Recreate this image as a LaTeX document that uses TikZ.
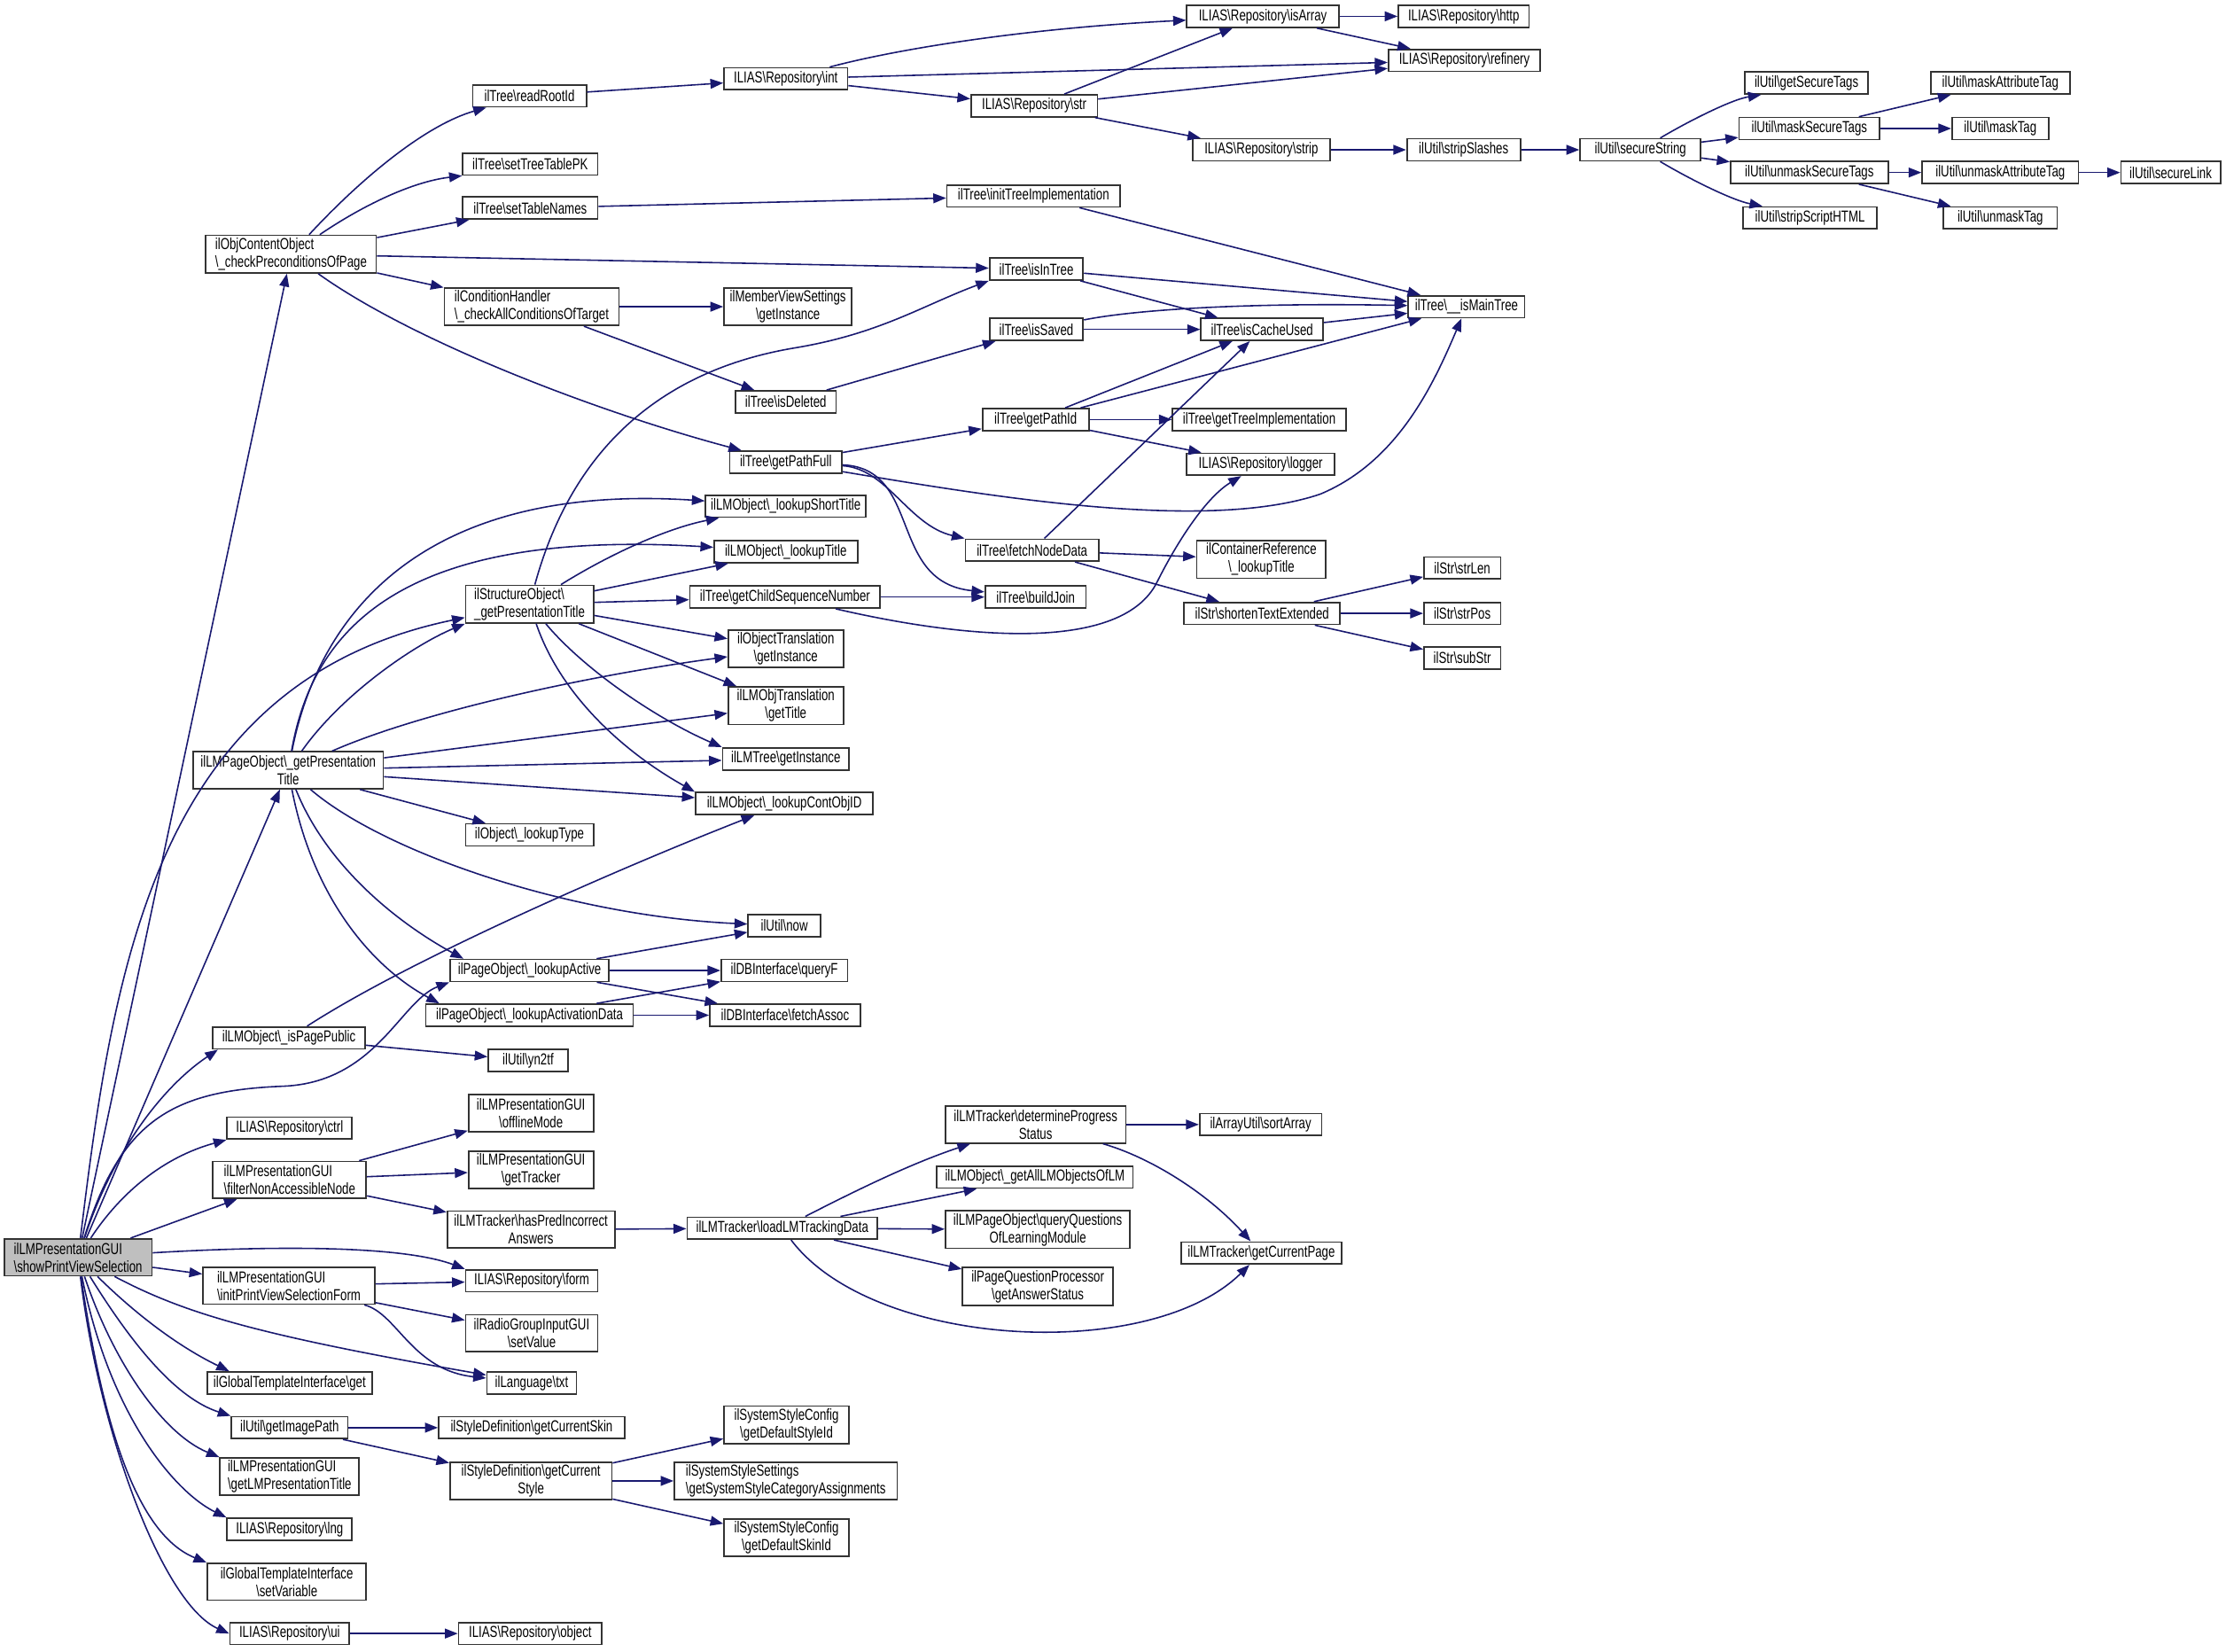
\documentclass[tikz,border=0pt]{standalone}
\usepackage{fontspec}
\newfontfamily\dxfont{Liberation Sans}[FakeStretch=0.74]
\usepackage{tikz}
\usetikzlibrary{arrows.meta,positioning,calc}
\definecolor{dxedge}{HTML}{191970}
\definecolor{dxline}{HTML}{333333}
\definecolor{dxroot}{HTML}{BFBFBF}
\newcommand{\bsl}{\textbackslash}

\begin{document}
\begin{tikzpicture}[x=0.1602mm, y=0.1602mm, >={Triangle[length=1.45mm,width=1.1mm]},
  fn/.style={draw=dxline, fill=white, line width=0.5pt, inner sep=0.8pt, align=center,
    minimum height=15.5*0.1602mm, font=\dxfont\fontsize{5.1}{5.7}\selectfont},
  fnl/.style={fn, align=left},
  rt/.style={fnl, fill=dxroot},
  two/.style={minimum height=26*0.1602mm},
  wd/.style={minimum width=#1*0.1602mm},
  call/.style={->, dxedge, line width=0.45pt}]
  \fill[white] (0,0) rectangle (1568,-1163);
  \useasboundingbox (0,0) rectangle (1568,-1163);

  % caller
  \node[rt, two, wd=104] (root) at (55,-885.5) {ilLMPresentationGUI\\\bsl showPrintViewSelection};

  % preconditions branch
  \node[fnl, two, wd=120] (chk) at (205,-179) {ilObjContentObject\\\bsl\_checkPreconditionsOfPage};
  \node[fn, wd=80] (readRoot) at (373,-67.5) {ilTree\bsl readRootId};
  \node[fn, wd=95] (setPK) at (373.5,-115.5) {ilTree\bsl setTreeTablePK};
  \node[fn, wd=95] (setNames) at (373.5,-146.5) {ilTree\bsl setTableNames};
  \node[fnl, two, wd=123] (cond) at (374.5,-216) {ilConditionHandler\\\bsl\_checkAllConditionsOfTarget};
  \node[fn, wd=87] (int) at (553.5,-55.5) {ILIAS\bsl Repository\bsl int};
  \node[fn, wd=107] (isArray) at (889.5,-11.5) {ILIAS\bsl Repository\bsl isArray};
  \node[fn, wd=92] (http) at (1031,-11.5) {ILIAS\bsl Repository\bsl http};
  \node[fn, wd=107] (refinery) at (1031.5,-42.5) {ILIAS\bsl Repository\bsl refinery};
  \node[fn, wd=89] (str) at (728.5,-74.5) {ILIAS\bsl Repository\bsl str};
  \node[fn, wd=97] (strip) at (888.5,-105.5) {ILIAS\bsl Repository\bsl strip};
  \node[fn, wd=80] (stripSl) at (1031,-105.5) {ilUtil\bsl stripSlashes};
  \node[fn, wd=85] (secStr) at (1155.5,-105.5) {ilUtil\bsl secureString};
  \node[fn, wd=87] (getSec) at (1272.5,-58.5) {ilUtil\bsl getSecureTags};
  \node[fn, wd=99] (maskSec) at (1274.5,-90.5) {ilUtil\bsl maskSecureTags};
  \node[fn, wd=111] (unmaskSec) at (1274.5,-121.5) {ilUtil\bsl unmaskSecureTags};
  \node[fn, wd=94] (stripScr) at (1275,-153.5) {ilUtil\bsl stripScriptHTML};
  \node[fn, wd=98] (maskAttr) at (1409,-58.5) {ilUtil\bsl maskAttributeTag};
  \node[fn, wd=68] (maskTag) at (1409,-90.5) {ilUtil\bsl maskTag};
  \node[fn, wd=110] (unmaskAttr) at (1409,-121.5) {ilUtil\bsl unmaskAttributeTag};
  \node[fn, wd=70] (secLink) at (1529,-121.5) {ilUtil\bsl secureLink};
  \node[fn, wd=80] (unmaskTag) at (1409,-153.5) {ilUtil\bsl unmaskTag};
  \node[fn, wd=122] (initImpl) at (728,-138) {ilTree\bsl initTreeImplementation};
  \node[fn, wd=66] (isInTree) at (730,-189.5) {ilTree\bsl isInTree};
  \node[fn, wd=82] (mainTree) at (1033,-216) {ilTree\bsl\_\_isMainTree};
  \node[fn, two, wd=90] (member) at (555,-216) {ilMemberViewSettings\\\bsl getInstance};
  \node[fn, wd=71] (isDel) at (553.5,-283) {ilTree\bsl isDeleted};
  \node[fn, wd=66] (isSaved) at (730,-232) {ilTree\bsl isSaved};
  \node[fn, wd=86] (cache) at (889,-232) {ilTree\bsl isCacheUsed};
  \node[fn, wd=79] (pathFull) at (553.5,-325.5) {ilTree\bsl getPathFull};
  \node[fn, wd=75] (pathId) at (729.5,-295.5) {ilTree\bsl getPathId};
  \node[fn, wd=122] (treeImpl) at (887,-295.5) {ilTree\bsl getTreeImplementation};
  \node[fn, wd=104] (logger) at (888,-327) {ILIAS\bsl Repository\bsl logger};
  \node[fn, wd=94] (fetch) at (727,-387.5) {ilTree\bsl fetchNodeData};
  \node[fn, two, wd=91] (contRef) at (888.5,-394) {ilContainerReference\\\bsl\_lookupTitle};
  \node[fn, wd=71] (buildJoin) at (729.5,-420.5) {ilTree\bsl buildJoin};
  \node[fn, wd=110] (shorten) at (889,-432) {ilStr\bsl shortenTextExtended};
  \node[fn, wd=54] (strLen) at (1030,-400) {ilStr\bsl strLen};
  \node[fn, wd=54] (strPos) at (1030,-432) {ilStr\bsl strPos};
  \node[fn, wd=54] (subStr) at (1030,-463.5) {ilStr\bsl subStr};

  % presentation title branch
  \node[fn, wd=113] (shortTitle) at (553.5,-356.5) {ilLMObject\bsl\_lookupShortTitle};
  \node[fn, wd=101] (lookTitle) at (553.5,-388.5) {ilLMObject\bsl\_lookupTitle};
  \node[fnl, two, wd=90] (struct) at (373,-425.5) {ilStructureObject\bsl\\\_getPresentationTitle};
  \node[fn, wd=134] (childSeq) at (553,-420.5) {ilTree\bsl getChildSequenceNumber};
  \node[fn, two, wd=81] (objTrans) at (553.5,-457) {ilObjectTranslation\\\bsl getInstance};
  \node[fn, two, wd=81] (lmObjTrans) at (553.5,-497) {ilLMObjTranslation\\\bsl getTitle};
  \node[fn, wd=89] (lmTree) at (553.5,-534.5) {ilLMTree\bsl getInstance};
  \node[fn, two, wd=134] (lmPage) at (203,-542.5) {ilLMPageObject\bsl\_getPresentation\\Title};
  \node[fn, wd=125] (contObj) at (552.5,-566) {ilLMObject\bsl\_lookupContObjID};
  \node[fn, wd=90] (lookType) at (373,-588) {ilObject\bsl\_lookupType};
  \node[fn, wd=51] (now) at (552.5,-652) {ilUtil\bsl now};
  \node[fn, wd=112] (active) at (373,-683.5) {ilPageObject\bsl\_lookupActive};
  \node[fn, wd=146] (actData) at (373,-715) {ilPageObject\bsl\_lookupActivationData};
  \node[fn, wd=89] (queryF) at (552.5,-683.5) {ilDBInterface\bsl queryF};
  \node[fn, wd=106] (fetchAssoc) at (553,-715) {ilDBInterface\bsl fetchAssoc};
  \node[fn, wd=107] (pagePublic) at (203.5,-731) {ilLMObject\bsl\_isPagePublic};
  \node[fn, wd=56] (yn2tf) at (372,-747) {ilUtil\bsl yn2tf};

  % tracking and form branch
  \node[fn, wd=88] (ctrl) at (204,-794.5) {ILIAS\bsl Repository\bsl ctrl};
  \node[fnl, two, wd=108] (filter) at (204,-831) {ilLMPresentationGUI\\\bsl filterNonAccessibleNode};
  \node[fn, two, wd=88] (offline) at (374,-784) {ilLMPresentationGUI\\\bsl offlineMode};
  \node[fn, two, wd=88] (tracker) at (374,-824) {ilLMPresentationGUI\\\bsl getTracker};
  \node[fn, two, wd=118] (hasPred) at (374,-866) {ilLMTracker\bsl hasPredIncorrect\\Answers};
  \node[fn, wd=134] (loadLM) at (551,-865) {ilLMTracker\bsl loadLMTrackingData};
  \node[fn, two, wd=127] (progress) at (729.5,-792) {ilLMTracker\bsl determineProgress\\Status};
  \node[fn, wd=86] (sortArr) at (888,-792) {ilArrayUtil\bsl sortArray};
  \node[fn, wd=138] (allLM) at (729,-829) {ilLMObject\bsl\_getAllLMObjectsOfLM};
  \node[fn, two, wd=130] (queryQ) at (731,-866) {ilLMPageObject\bsl queryQuestions\\OfLearningModule};
  \node[fn, two, wd=106] (answer) at (731,-906) {ilPageQuestionProcessor\\\bsl getAnswerStatus};
  \node[fn, wd=113] (curPage) at (888.5,-882.5) {ilLMTracker\bsl getCurrentPage};
  \node[fnl, two, wd=121] (initForm) at (203.5,-905.5) {ilLMPresentationGUI\\\bsl initPrintViewSelectionForm};
  \node[fn, wd=93] (form) at (374.5,-902) {ILIAS\bsl Repository\bsl form};
  \node[fn, two, wd=93] (radio) at (374.5,-939) {ilRadioGroupInputGUI\\\bsl setValue};
  \node[fn, wd=63] (txt) at (374.5,-974) {ilLanguage\bsl txt};
  \node[fn, wd=116] (tplGet) at (204,-974) {ilGlobalTemplateInterface\bsl get};
  \node[fn, wd=82] (imgPath) at (204,-1005.5) {ilUtil\bsl getImagePath};
  \node[fn, wd=131] (curSkin) at (374.5,-1005.5) {ilStyleDefinition\bsl getCurrentSkin};
  \node[fn, two, wd=114] (curStyle) at (374,-1043) {ilStyleDefinition\bsl getCurrent\\Style};
  \node[fn, two, wd=88] (defStyle) at (554,-1003.5) {ilSystemStyleConfig\\\bsl getDefaultStyleId};
  \node[fnl, two, wd=157] (catAssign) at (553.5,-1043) {ilSystemStyleSettings\\\bsl getSystemStyleCategoryAssignments};
  \node[fn, two, wd=88] (defSkin) at (554,-1083) {ilSystemStyleConfig\\\bsl getDefaultSkinId};
  \node[fnl, two, wd=98] (lmTitle) at (204,-1040) {ilLMPresentationGUI\\\bsl getLMPresentationTitle};
  \node[fn, wd=88] (lng) at (204,-1077) {ILIAS\bsl Repository\bsl lng};
  \node[fn, two, wd=112] (setVar) at (202,-1114) {ilGlobalTemplateInterface\\\bsl setVariable};
  \node[fn, wd=84] (ui) at (204,-1150.5) {ILIAS\bsl Repository\bsl ui};
  \node[fn, wd=101] (object) at (373.5,-1150.5) {ILIAS\bsl Repository\bsl object};

  % straight calls
  \foreach \a/\b in {root/chk, root/lmPage, root/filter, root/initForm,
      chk/setNames, chk/isInTree, chk/cond, readRoot/int, int/refinery, int/str,
      isArray/http, isArray/refinery, str/isArray, str/refinery, str/strip,
      strip/stripSl, stripSl/secStr, secStr/maskSec, secStr/unmaskSec,
      maskSec/maskAttr, maskSec/maskTag, unmaskSec/unmaskAttr, unmaskSec/unmaskTag,
      unmaskAttr/secLink, setNames/initImpl, initImpl/mainTree, isInTree/mainTree,
      isInTree/cache, cond/member, cond/isDel, isDel/isSaved, isSaved/cache,
      cache/mainTree, pathFull/pathId, pathId/cache, pathId/mainTree, pathId/treeImpl,
      pathId/logger, fetch/cache, fetch/contRef, fetch/shorten, shorten/strLen,
      shorten/strPos, shorten/subStr, struct/lookTitle, struct/childSeq,
      struct/objTrans, struct/lmObjTrans, childSeq/buildJoin, lmPage/lmObjTrans,
      lmPage/lmTree, lmPage/contObj, lmPage/lookType, active/now, active/queryF,
      active/fetchAssoc, actData/queryF, actData/fetchAssoc, pagePublic/yn2tf,
      filter/offline, filter/tracker, filter/hasPred, hasPred/loadLM, loadLM/allLM,
      loadLM/queryQ, loadLM/answer, progress/sortArr, initForm/form, initForm/radio,
      imgPath/curSkin, imgPath/curStyle, curStyle/defStyle, curStyle/catAssign,
      curStyle/defSkin, ui/object}
    \draw[call] (\a) -- (\b);

  % curved calls from the caller
  \draw[call] (root) .. controls (80,-680) and (110,-480) .. (struct);
  \draw[call] (root) .. controls (85,-790) and (120,-768) .. (200,-765)
    .. controls (265,-762) and (282,-705) .. (active.south west);
  \draw[call] (root) .. controls (80,-810) and (115,-765) .. ($(pagePublic.south west)+(4,0)$);
  \draw[call] (root) .. controls (85,-840) and (115,-815) .. (ctrl.south west);
  \draw[call] (root) .. controls (180,-878) and (280,-876) .. (form.north west);
  \draw[call] (root) .. controls (130,-925) and (180,-940) .. (txt);
  \draw[call] (root) .. controls (95,-925) and (125,-948) .. ($(tplGet.north west)+(16,0)$);
  \draw[call] (root) .. controls (95,-950) and (125,-985) .. (imgPath.north west);
  \draw[call] (root) .. controls (80,-960) and (115,-1010) .. (lmTitle.north west);
  \draw[call] (root) .. controls (78,-1000) and (125,-1052) .. (lng.north west);
  \draw[call] (root) .. controls (72,-1000) and (95,-1080) .. (setVar.north west);
  \draw[call] (root) .. controls (70,-1010) and (115,-1130) .. (ui.west);

  % other curved calls
  \draw[call] (chk) .. controls (255,-125) and (300,-88) .. ($(readRoot.south west)+(10,0)$);
  \draw[call] (chk) .. controls (255,-145) and (290,-128) .. (setPK.south west);
  \draw[call] (chk) .. controls (290,-240) and (420,-290) .. (pathFull);
  \draw[call] (int) .. controls (630,-35) and (720,-20) .. (isArray);
  \draw[call] (secStr) .. controls (1190,-85) and (1220,-70) .. ($(getSec.south west)+(12,0)$);
  \draw[call] (secStr) .. controls (1190,-126) and (1220,-141) .. ($(stripScr.north west)+(14,0)$);
  \draw[call] (isSaved) .. controls (800,-218) and (880,-213) .. (mainTree);
  \draw[call] (pathFull) .. controls (625,-330) and (640,-370) .. (fetch.north west);
  \draw[call] (pathFull) .. controls (650,-330) and (625,-410) .. (buildJoin);
  \draw[call] (pathFull) .. controls (700,-350) and (850,-375) .. (930,-348)
    .. controls (985,-325) and (1010,-270) .. (mainTree);
  \draw[call] (struct) .. controls (395,-345) and (440,-265) .. (560,-245)
    .. controls (620,-235) and (650,-215) .. (isInTree.south west);
  \draw[call] (struct) .. controls (430,-390) and (470,-372) .. ($(shortTitle.south west)+(10,0)$);
  \draw[call] (struct) .. controls (410,-470) and (460,-505) .. (lmTree.north west);
  \draw[call] (struct) .. controls (395,-490) and (440,-530) .. (contObj.north west);
  \draw[call] (childSeq) .. controls (680,-450) and (790,-460) .. (815,-410)
    .. controls (830,-380) and (850,-350) .. (logger);
  \draw[call] (lmPage) .. controls (225,-430) and (300,-340) .. (shortTitle);
  \draw[call] (lmPage) .. controls (220,-445) and (280,-372) .. (lookTitle);
  \draw[call] (lmPage) .. controls (240,-490) and (290,-455) .. (struct.south west);
  \draw[call] (lmPage) .. controls (300,-500) and (420,-475) .. (objTrans);
  \draw[call] (lmPage) .. controls (270,-600) and (400,-645) .. (now);
  \draw[call] (lmPage) .. controls (230,-610) and (280,-650) .. ($(active.north west)+(10,0)$);
  \draw[call] (lmPage) .. controls (220,-630) and (260,-680) .. ($(actData.north west)+(10,0)$);
  \draw[call] (pagePublic) .. controls (290,-675) and (440,-610) .. (contObj);
  \draw[call] (loadLM) .. controls (600,-840) and (640,-820) .. ($(progress.south west)+(18,0)$);
  \draw[call] (loadLM) .. controls (615,-950) and (810,-960) .. (curPage);
  \draw[call] (progress) .. controls (810,-815) and (850,-840) .. (curPage);
  \draw[call] (initForm) .. controls (280,-925) and (290,-965) .. (txt);
\end{tikzpicture}
\end{document}
